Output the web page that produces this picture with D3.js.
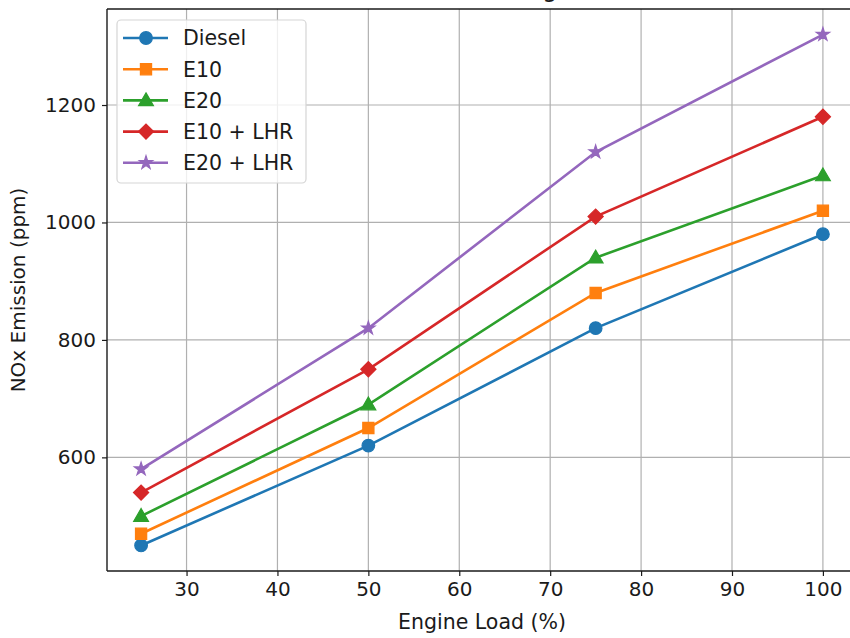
<!DOCTYPE html>
<html>
<head>
<meta charset="utf-8">
<script src="https://cdn.jsdelivr.net/npm/d3@7/dist/d3.min.js"></script>
<style>
  html, body { margin: 0; padding: 0; background: #fff; }
  svg { display: block; }
  text { font-family: "DejaVu Sans", sans-serif; fill: #1a1a1a; }
</style>
</head>
<body>
<svg id="chart" width="850" height="638"></svg>
<script>
const loads = [25, 50, 75, 100];
const seriesNames = ["Diesel", "E10", "E20", "E10 + LHR", "E20 + LHR"];
const diesel = [450, 620, 820, 980];
const e10 = [470, 650, 880, 1020];
const e20 = [500, 690, 940, 1080];
const e10lhr = [540, 750, 1010, 1180];
const e20lhr = [580, 820, 1120, 1320];
const xTicks = [30, 40, 50, 60, 70, 80, 90, 100];
const yTicks = [600, 800, 1000, 1200];
const titleText = "NOx Emission vs Engine Load";
const xLabel = "Engine Load (%)";
const yLabel = "NOx Emission (ppm)";

const seriesValues = [diesel, e10, e20, e10lhr, e20lhr];
const colors = ["#1f77b4", "#ff7f0e", "#2ca02c", "#d62728", "#9467bd"];
const markers = ["circle", "square", "triangle", "diamond", "star"];

const svg = d3.select("#chart");
const pL = 107, pR = 857, pT = 9, pB = 571;

// matplotlib-style 5% margins
const xMin = d3.min(loads), xMax = d3.max(loads);
const allY = seriesValues.flat();
const yMin = d3.min(allY), yMax = d3.max(allY);
const xPad = (xMax - xMin) * 0.05, yPad = (yMax - yMin) * 0.05;

const x = d3.scaleLinear().domain([xMin - xPad, xMax + xPad]).range([pL, pR]);
const y = d3.scaleLinear().domain([yMin - yPad, yMax + yPad]).range([pB, pT]);

// grid
const grid = svg.append("g");
grid.selectAll(".gx").data(xTicks).enter().append("line")
  .attr("x1", d => x(d)).attr("x2", d => x(d)).attr("y1", pT).attr("y2", pB)
  .attr("stroke", "#b0b0b0").attr("stroke-width", 1.2);
grid.selectAll(".gy").data(yTicks).enter().append("line")
  .attr("x1", pL).attr("x2", pR).attr("y1", d => y(d)).attr("y2", d => y(d))
  .attr("stroke", "#b0b0b0").attr("stroke-width", 1.2);

// axes
const xAxis = svg.append("g").attr("transform", `translate(0,${pB})`)
  .call(d3.axisBottom(x).tickValues(xTicks).tickFormat(d3.format("d"))
    .tickSize(5).tickPadding(6).tickSizeOuter(0));
const yAxis = svg.append("g").attr("transform", `translate(${pL},0)`)
  .call(d3.axisLeft(y).tickValues(yTicks).tickFormat(d3.format("d"))
    .tickSize(5).tickPadding(6).tickSizeOuter(0));
[xAxis, yAxis].forEach(a => {
  a.select(".domain").remove();
  a.selectAll(".tick line").attr("stroke", "#1a1a1a").attr("stroke-width", 1.2);
  a.selectAll(".tick text").attr("font-size", 20).attr("fill", "#1a1a1a")
    .style("font-family", "DejaVu Sans, sans-serif");
});

// spines
svg.append("line").attr("x1", pL).attr("x2", pL).attr("y1", pT).attr("y2", pB)
  .attr("stroke", "#1a1a1a").attr("stroke-width", 1.4);
svg.append("line").attr("x1", pL).attr("x2", pR).attr("y1", pB).attr("y2", pB)
  .attr("stroke", "#1a1a1a").attr("stroke-width", 1.4);
svg.append("line").attr("x1", pL).attr("x2", pR).attr("y1", pT).attr("y2", pT)
  .attr("stroke", "#1a1a1a").attr("stroke-width", 1.4);

// symbols
function markerPath(kind) {
  switch (kind) {
    case "circle": return d3.symbol(d3.symbolCircle, 125)();
    case "square": return d3.symbol(d3.symbolSquare, 125)();
    case "triangle": return d3.symbol(d3.symbolTriangle, 95)();
    case "diamond": return d3.symbol(d3.symbolSquare, 115)();
    case "star": return d3.symbol(d3.symbolStar, 55)();
  }
}
function markerTransform(kind, cx, cy) {
  if (kind === "diamond") return `translate(${cx},${cy}) rotate(45)`;
  if (kind === "triangle") return `translate(${cx},${cy + 1})`;
  return `translate(${cx},${cy})`;
}

const line = d3.line().x((d, i) => x(loads[i])).y(d => y(d));
seriesValues.forEach((vals, si) => {
  const g = svg.append("g");
  g.append("path").attr("d", line(vals)).attr("fill", "none")
    .attr("stroke", colors[si]).attr("stroke-width", 2.6);
  g.selectAll("path.m").data(vals).enter().append("path").attr("class", "m")
    .attr("d", markerPath(markers[si]))
    .attr("transform", (d, i) => markerTransform(markers[si], x(loads[i]), y(d)))
    .attr("fill", colors[si]).attr("stroke", colors[si]).attr("stroke-width", 1.2);
});

// legend
const lg = svg.append("g");
lg.append("rect").attr("x", 117).attr("y", 20).attr("width", 189).attr("height", 163)
  .attr("rx", 4).attr("fill", "#fff").attr("fill-opacity", 0.8)
  .attr("stroke", "#d5d5d5").attr("stroke-width", 1.2);
seriesNames.forEach((name, i) => {
  const cy = 38 + i * 31.2;
  lg.append("line").attr("x1", 123).attr("x2", 168).attr("y1", cy).attr("y2", cy)
    .attr("stroke", colors[i]).attr("stroke-width", 2.6);
  lg.append("path").attr("d", markerPath(markers[i]))
    .attr("transform", markerTransform(markers[i], 146, cy))
    .attr("fill", colors[i]).attr("stroke", colors[i]).attr("stroke-width", 1.2);
  lg.append("text").attr("x", 183).attr("y", cy).attr("dy", "0.36em")
    .attr("font-size", 20.5).text(name);
});

// labels
svg.append("text").attr("x", (pL + pR) / 2).attr("y", 629)
  .attr("text-anchor", "middle").attr("font-size", 20.5).text(xLabel);
svg.append("text").attr("transform", `translate(25,${(pT + pB) / 2}) rotate(-90)`)
  .attr("text-anchor", "middle").attr("font-size", 20).text(yLabel);
// title sits above the visible area, as in the cropped reference (only the descender shows)
svg.append("text").attr("x", (pL + pR) / 2).attr("y", -3)
  .attr("text-anchor", "middle").attr("font-size", 24).text(titleText);
</script>
</body>
</html>
